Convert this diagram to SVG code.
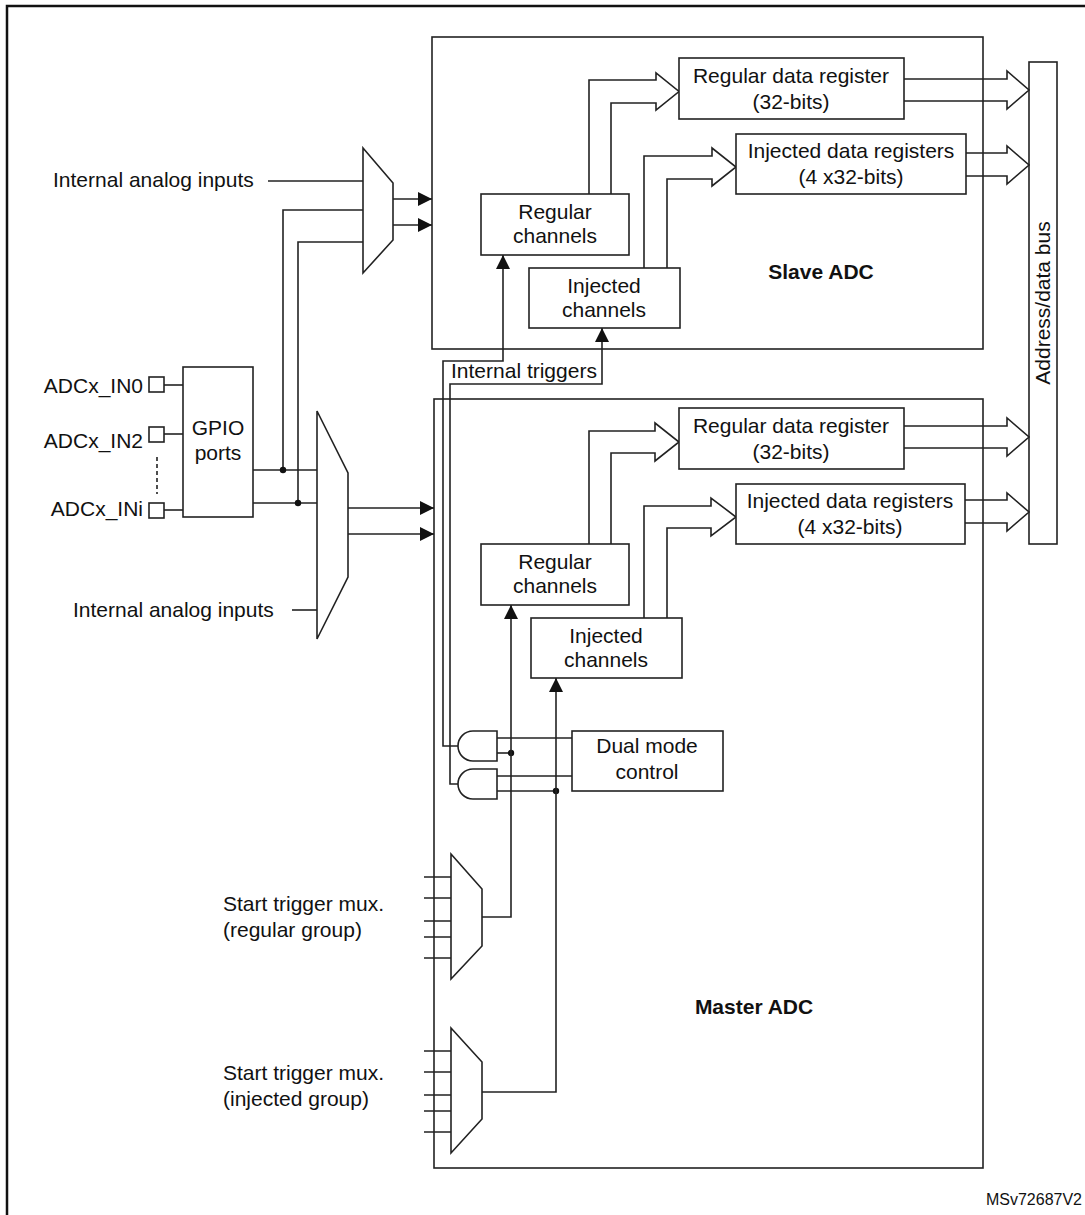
<svg xmlns="http://www.w3.org/2000/svg" width="1085" height="1215" viewBox="0 0 1085 1215">
<style>
text{font-family:"Liberation Sans",Arial,sans-serif;font-size:21px;fill:#111}
.b{font-weight:bold}
.m{text-anchor:middle}
.e{text-anchor:end}
.s{fill:none;stroke:#222;stroke-width:1.6}
.bx{fill:#fff;stroke:#222;stroke-width:1.6}
.ln{fill:none;stroke:#222;stroke-width:1.6}
.dot{fill:#111}
</style>
<defs>
<marker id="ah" viewBox="0 0 14 14" refX="14" refY="7" markerWidth="14" markerHeight="14" markerUnits="userSpaceOnUse" orient="auto"><path d="M0,0 L14,7 L0,14 Z" fill="#111"/></marker>
</defs>
<rect x="0" y="0" width="1085" height="1215" fill="#fff"/>
<path d="M7,1215 V6 H1085" fill="none" stroke="#111" stroke-width="2.5"/>

<g id="slave-adc">
<rect class="s" x="432" y="37" width="551" height="312"/>
<text class="b m" x="821" y="279">Slave ADC</text>
</g>
<g id="master-adc">
<rect class="s" x="434" y="399" width="549" height="769"/>
<text class="b m" x="754" y="1014">Master ADC</text>
</g>

<g id="address-bus">
<rect class="bx" x="1029" y="62" width="28" height="482"/>
<text class="m" transform="translate(1050,303) rotate(-90)">Address/data bus</text>
</g>

<g id="connectors">
<!-- top mux inputs -->
<path class="ln" d="M268,181 H363"/>
<path class="ln" d="M283,470 V210 H363"/>
<path class="ln" d="M298,503 V242 H363"/>
<!-- top mux outputs -->
<path class="ln" d="M393,199 H432" marker-end="url(#ah)"/>
<path class="ln" d="M393,225 H432" marker-end="url(#ah)"/>
<!-- GPIO pins -->
<path class="ln" d="M164,385 H183"/>
<path class="ln" d="M164,434 H183"/>
<path class="ln" d="M164,510 H183"/>
<path d="M157,457 V494" fill="none" stroke="#222" stroke-width="1.6" stroke-dasharray="4,3"/>
<!-- GPIO outputs -->
<path class="ln" d="M253,470 H317"/>
<path class="ln" d="M253,503 H317"/>
<circle class="dot" cx="283" cy="470" r="3.2"/>
<circle class="dot" cx="298" cy="503" r="3.2"/>
<!-- bottom mux -->
<path class="ln" d="M292,610 H317"/>
<path class="ln" d="M348,508 H434" marker-end="url(#ah)"/>
<path class="ln" d="M348,534 H434" marker-end="url(#ah)"/>
<!-- wide arrows slave -->
<path class="ln" d="M589,194 V80 H656 V73 L679,91.5 L656,110 V103 H611 V194"/>
<path class="ln" d="M644,268 V156 H712 V148 L736,167 L712,186 V179 H667 V268"/>
<path class="ln" d="M904,79 H1007 V71 L1029,90 L1007,109 V101 H904"/>
<path class="ln" d="M966,153 H1007 V146 L1029,165 L1007,184 V176 H966"/>
<!-- wide arrows master -->
<path class="ln" d="M589,544 V431 H655 V423 L679,442 L655,461 V453 H611 V544"/>
<path class="ln" d="M644,618 V506 H711 V498 L736,517 L711,536 V528 H667 V618"/>
<path class="ln" d="M904,426 H1007 V418 L1029,437 L1007,456 V448 H904"/>
<path class="ln" d="M965,500 H1007 V493 L1029,512 L1007,531 V523 H965"/>
<!-- internal triggers to slave -->
<path class="ln" d="M458,746 H443 V361 H503 V255" marker-end="url(#ah)"/>
<path class="ln" d="M458,784 H450 V384 H602 V328" marker-end="url(#ah)"/>
<!-- gate inputs -->
<path class="ln" d="M497,738 H572"/>
<path class="ln" d="M497,753 H511"/>
<path class="ln" d="M497,776 H572"/>
<path class="ln" d="M497,791 H556"/>
<circle class="dot" cx="511" cy="753" r="3.2"/>
<circle class="dot" cx="556" cy="791" r="3.2"/>
<!-- start trigger mux outputs to master channels -->
<path class="ln" d="M482,917 H511 V605" marker-end="url(#ah)"/>
<path class="ln" d="M482,1092 H556 V678" marker-end="url(#ah)"/>
<!-- start trigger mux inputs -->
<path class="ln" d="M424,877 H451 M424,898 H451 M424,921 H451 M424,937 H451 M424,958 H451"/>
<path class="ln" d="M424,1051 H451 M424,1072 H451 M424,1095 H451 M424,1111 H451 M424,1132 H451"/>
</g>

<g id="mux-top"><path class="bx" d="M363,148 L393,183 V240 L363,273 Z"/></g>
<g id="mux-bottom"><path class="bx" d="M317,411 L348,473 V577 L317,639 Z"/></g>
<g id="mux-regular"><path class="bx" d="M451,854 L482,889 V946 L451,979 Z"/></g>
<g id="mux-injected"><path class="bx" d="M451,1028 L482,1062 V1119 L451,1153 Z"/></g>

<g id="and-gate-1"><path class="bx" d="M497,731 H473 A15,15 0 0 0 473,761 H497 Z"/></g>
<g id="and-gate-2"><path class="bx" d="M497,769 H473 A15,15 0 0 0 473,799 H497 Z"/></g>

<g id="pins">
<rect class="bx" x="149" y="377" width="15" height="15"/>
<rect class="bx" x="149" y="427" width="15" height="15"/>
<rect class="bx" x="149" y="503" width="15" height="15"/>
</g>

<g id="gpio">
<rect class="bx" x="183" y="367" width="70" height="150"/>
<text class="m" x="218" y="435">GPIO</text>
<text class="m" x="218" y="460">ports</text>
</g>

<g id="slave-regular-data">
<rect class="bx" x="679" y="58" width="225" height="61"/>
<text class="m" x="791" y="83">Regular data register</text>
<text class="m" x="791" y="109">(32-bits)</text>
</g>
<g id="slave-injected-data">
<rect class="bx" x="736" y="134" width="230" height="60"/>
<text class="m" x="851" y="158">Injected data registers</text>
<text class="m" x="851" y="184">(4 x32-bits)</text>
</g>
<g id="slave-regular-channels">
<rect class="bx" x="481" y="194" width="148" height="61"/>
<text class="m" x="555" y="219">Regular</text>
<text class="m" x="555" y="243">channels</text>
</g>
<g id="slave-injected-channels">
<rect class="bx" x="529" y="268" width="151" height="60"/>
<text class="m" x="604" y="293">Injected</text>
<text class="m" x="604" y="317">channels</text>
</g>

<g id="master-regular-data">
<rect class="bx" x="679" y="408" width="225" height="61"/>
<text class="m" x="791" y="433">Regular data register</text>
<text class="m" x="791" y="459">(32-bits)</text>
</g>
<g id="master-injected-data">
<rect class="bx" x="736" y="484" width="229" height="60"/>
<text class="m" x="850" y="508">Injected data registers</text>
<text class="m" x="850" y="534">(4 x32-bits)</text>
</g>
<g id="master-regular-channels">
<rect class="bx" x="481" y="544" width="148" height="61"/>
<text class="m" x="555" y="569">Regular</text>
<text class="m" x="555" y="593">channels</text>
</g>
<g id="master-injected-channels">
<rect class="bx" x="531" y="618" width="151" height="60"/>
<text class="m" x="606" y="643">Injected</text>
<text class="m" x="606" y="667">channels</text>
</g>
<g id="dual-mode-control">
<rect class="bx" x="572" y="731" width="151" height="60"/>
<text class="m" x="647" y="753">Dual mode</text>
<text class="m" x="647" y="779">control</text>
</g>

<g id="labels">
<text x="53" y="187">Internal analog inputs</text>
<text x="73" y="617">Internal analog inputs</text>
<text class="e" x="143" y="393">ADCx_IN0</text>
<text class="e" x="143" y="448">ADCx_IN2</text>
<text class="e" x="143" y="516">ADCx_INi</text>
<text x="451" y="378">Internal triggers</text>
<text x="223" y="911">Start trigger mux.</text>
<text x="223" y="937">(regular group)</text>
<text x="223" y="1080">Start trigger mux.</text>
<text x="223" y="1106">(injected group)</text>
<text class="e" x="1082" y="1205" style="font-size:16px">MSv72687V2</text>
</g>
</svg>
